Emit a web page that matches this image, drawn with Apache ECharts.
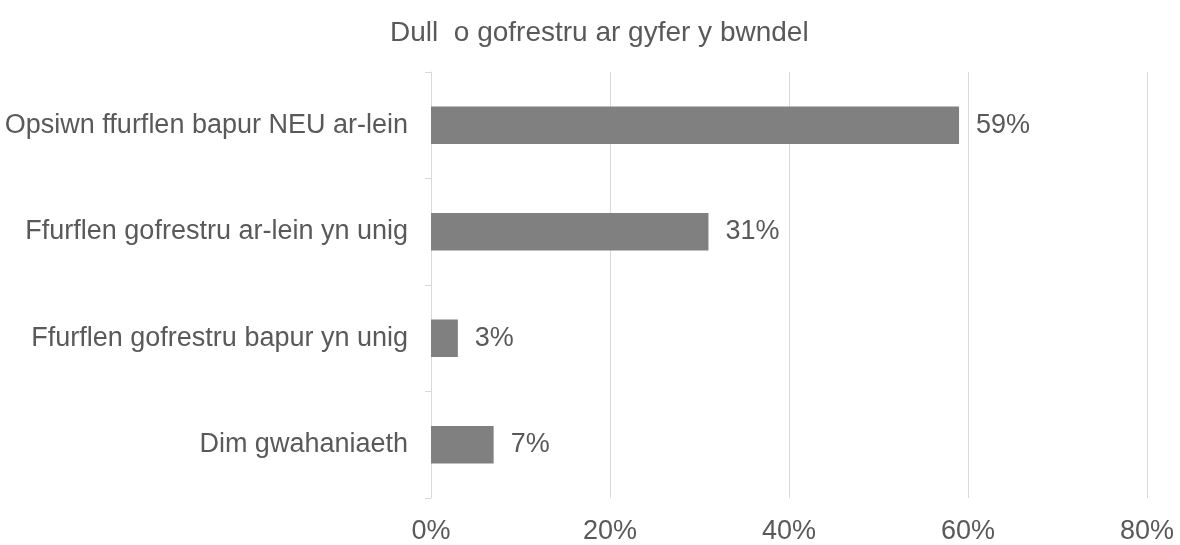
<!DOCTYPE html>
<html>
<head>
<meta charset="utf-8" />
<title>Dull o gofrestru</title>
<script type="text/javascript" src="https://cdn.jsdelivr.net/npm/echarts@6/dist/echarts.min.js"></script>
<style type="text/css">
html, body {
	width: 100%;
	height: 100%;
	margin: 0;
	background: #fff;
}
#main {
	width: 1180px;
	height: 545px;
}
</style>
</head>
<body>
<div id="main"></div>
<script type="text/javascript">
var categories = [
	'Dim gwahaniaeth',
	'Ffurflen gofrestru bapur yn unig',
	'Ffurflen gofrestru ar-lein yn unig',
	'Opsiwn ffurflen bapur NEU ar-lein'
];
var values = [7, 3, 31, 59];
var xTicks = [0, 20, 40, 60, 80];

var chart = echarts.init(document.getElementById('main'));
var textColor = '#595959';
var font = 'Liberation Sans, Arial, sans-serif';

var option = {
	animation: false,
	title: {
		text: 'Dull  o gofrestru ar gyfer y bwndel',
		left: 385,
		top: 14,
		textStyle: {
			color: textColor,
			fontFamily: font,
			fontSize: 28,
			fontWeight: 'normal'
		}
	},
	grid: {
		left: 431,
		right: 33,
		top: 72,
		bottom: 47
	},
	xAxis: {
		type: 'value',
		min: xTicks[0],
		max: xTicks[xTicks.length - 1],
		interval: 20,
		axisLine: { show: false },
		axisTick: { show: false },
		splitLine: {
			show: true,
			lineStyle: { color: '#d9d9d9', width: 1 }
		},
		axisLabel: {
			color: textColor,
			fontFamily: font,
			fontSize: 27,
			margin: 20,
			formatter: '{value}%'
		}
	},
	yAxis: {
		type: 'category',
		data: categories,
		axisLine: {
			show: true,
			lineStyle: { color: '#d9d9d9', width: 1 }
		},
		axisTick: {
			show: true,
			length: 6,
			lineStyle: { color: '#d9d9d9' }
		},
		axisLabel: {
			color: textColor,
			fontFamily: font,
			fontSize: 27,
			margin: 23
		}
	},
	series: [{
		type: 'bar',
		data: values,
		barWidth: '35%',
		itemStyle: { color: '#808080' },
		label: {
			show: true,
			position: 'right',
			distance: 17,
			color: textColor,
			fontFamily: font,
			fontSize: 27,
			formatter: '{c}%'
		}
	}]
};

chart.setOption(option);
</script>
</body>
</html>
